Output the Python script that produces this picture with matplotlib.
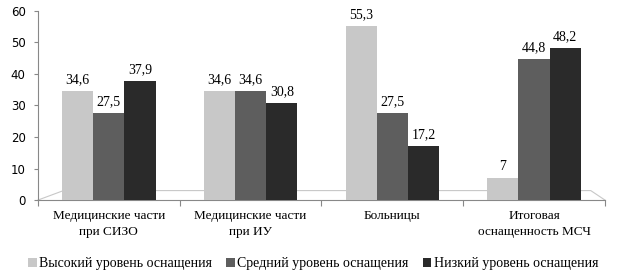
import numpy as np
from matplotlib import pyplot as plt

categories = ["Медицинские части\nпри СИЗО", "Медицинские части\nпри ИУ",
              "Больницы", "Итоговая\nоснащенность МСЧ"]
series_names = ["Высокий уровень оснащения", "Средний уровень оснащения",
                "Низкий уровень оснащения"]
high = [34.6, 34.6, 55.3, 7]
medium = [27.5, 34.6, 27.5, 44.8]
low = [37.9, 30.8, 17.2, 48.2]
value_labels = [["34,6", "34,6", "55,3", "7"],
                ["27,5", "34,6", "27,5", "44,8"],
                ["37,9", "30,8", "17,2", "48,2"]]

colors = ["#c8c8c8", "#5e5e5e", "#2a2a2a"]
serif = ["Liberation Serif", "DejaVu Serif"]

fig = plt.figure(figsize=(6.23, 2.79), dpi=100)
ax = fig.add_axes([0.061, 0.283, 0.91, 0.678])

x = np.arange(len(categories))
width = 0.22
for i, vals in enumerate([high, medium, low]):
    pos = x + (i - 1) * width
    ax.bar(pos, vals, width, color=colors[i], label=series_names[i],
           edgecolor="none", zorder=3)
    for p, v, t in zip(pos, vals, value_labels[i]):
        ax.text(p, v + 1.5, t, ha="center", va="bottom", fontsize=10,
                family=serif, zorder=4)

# floor of the pseudo-3d chart
ax.plot([0.0, 0.045, 0.975, 1.0], [0.0, 0.05, 0.05, 0.0], color="#c8c8c8",
        lw=0.8, transform=ax.transAxes, clip_on=False, zorder=1)

ax.set_xlim(-0.5, 3.5)
ax.set_ylim(0, 60)
ax.set_yticks(range(0, 61, 10))
ax.tick_params(axis="y", labelsize=8.5, length=3, color="#888888", pad=6)
ax.set_xticks(np.arange(-0.5, 3.6, 1))
ax.set_xticklabels([])
ax.set_xticks(x, minor=True)
ax.set_xticklabels(categories, minor=True, family=serif, fontsize=9.5,
                   linespacing=1.45)
ax.tick_params(axis="x", which="major", length=4, color="#888888")
ax.tick_params(axis="x", which="minor", length=0, pad=7)
for s in ["top", "right"]:
    ax.spines[s].set_visible(False)
ax.spines["left"].set_color("#888888")
ax.spines["bottom"].set_color("#888888")

fig.legend(loc="center", bbox_to_anchor=(0.503, 0.054), ncol=3, frameon=False,
           prop={"family": serif, "size": 10}, handlelength=0.6,
           handleheight=0.6, handletextpad=0.2, columnspacing=1.0,
           borderpad=0)

fig.savefig("out.png", dpi=100)
